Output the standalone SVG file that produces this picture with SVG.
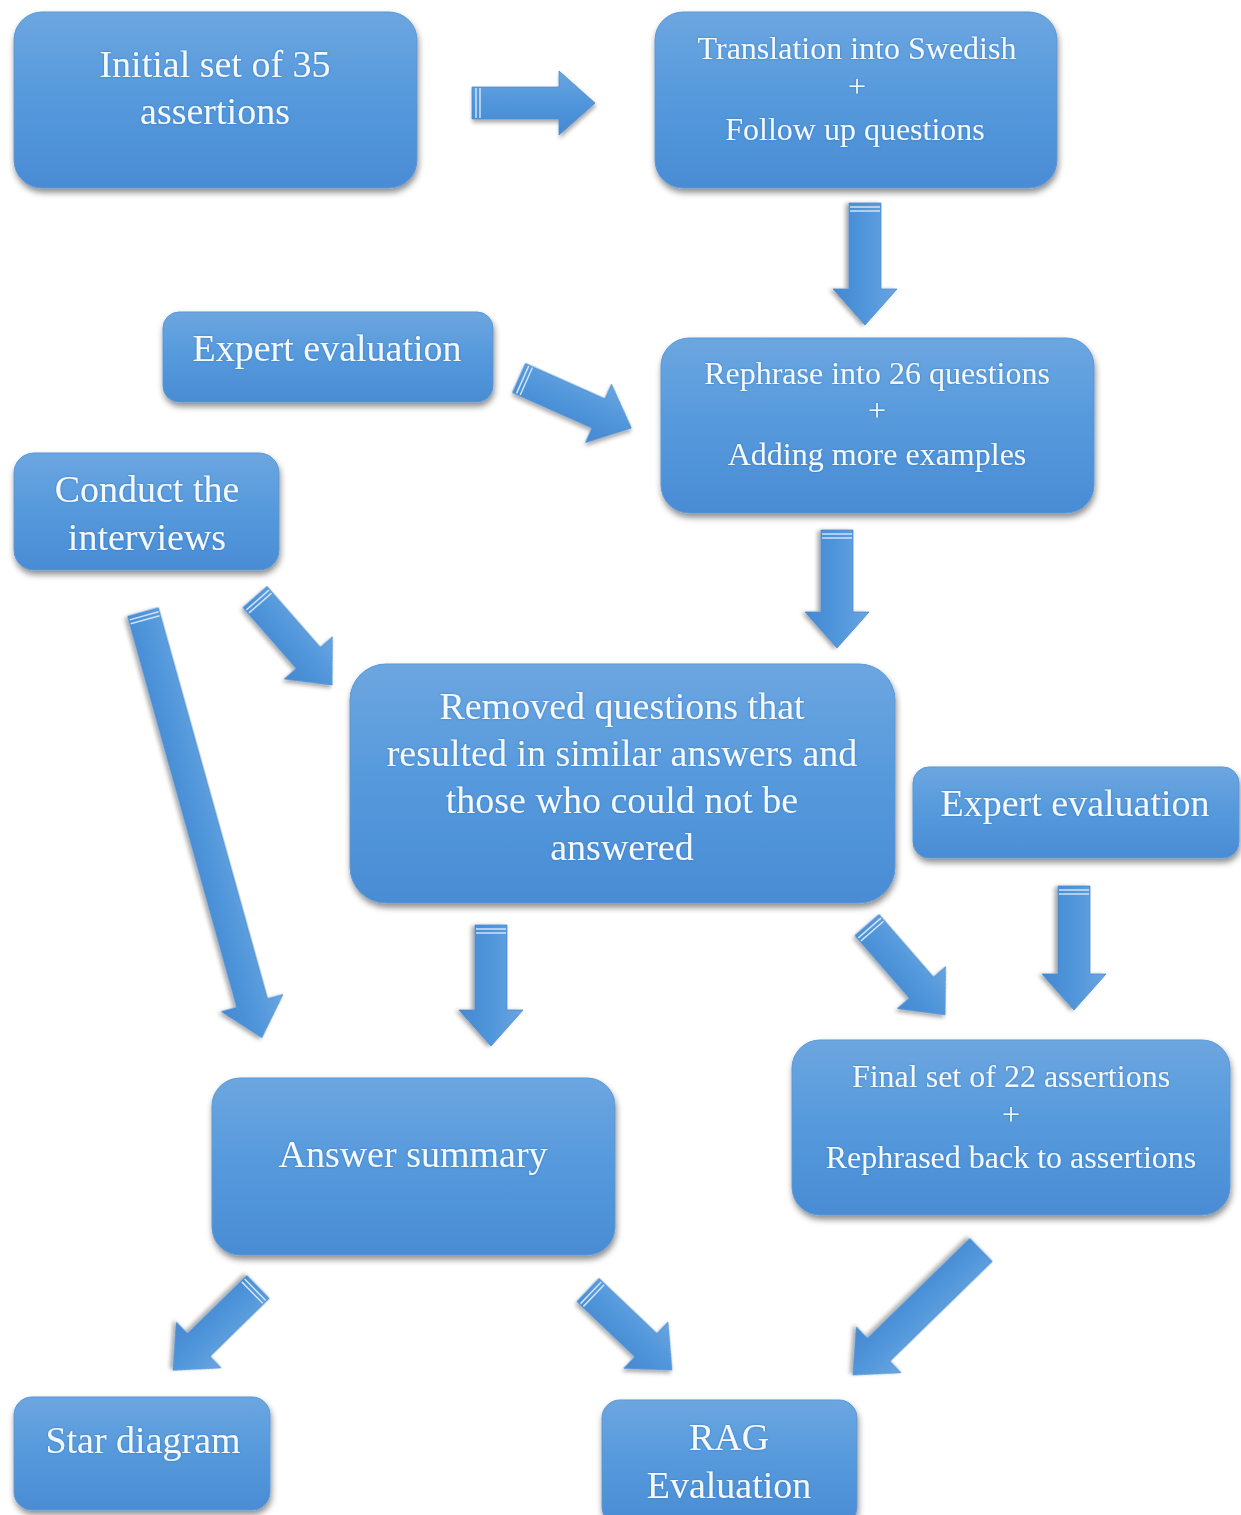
<svg xmlns="http://www.w3.org/2000/svg" width="1241" height="1515" viewBox="0 0 1241 1515">
<defs>
<linearGradient id="boxg" x1="0" y1="0" x2="0" y2="1">
<stop offset="0" stop-color="#6ca6e0"/>
<stop offset="0.5" stop-color="#5599dc"/>
<stop offset="1" stop-color="#4a8cd4"/>
</linearGradient>
<linearGradient id="arrg" x1="0" y1="0" x2="0" y2="1">
<stop offset="0" stop-color="#6aa5e0"/>
<stop offset="0.5" stop-color="#5096db"/>
<stop offset="1" stop-color="#4588d0"/>
</linearGradient>
<filter id="sh" x="-10%" y="-10%" width="120%" height="130%">
<feDropShadow dx="1" dy="4" stdDeviation="3" flood-color="#000" flood-opacity="0.45"/>
</filter>
<filter id="ash" x="-20%" y="-20%" width="140%" height="140%">
<feDropShadow dx="1" dy="3" stdDeviation="2" flood-color="#000" flood-opacity="0.35"/>
</filter>
<filter id="glow" x="-5%" y="-20%" width="110%" height="140%">
<feGaussianBlur in="SourceAlpha" stdDeviation="1.2" result="b"/>
<feFlood flood-color="#2d6fb8" flood-opacity="0.8"/>
<feComposite in2="b" operator="in" result="g"/>
<feMerge><feMergeNode in="g"/><feMergeNode in="SourceGraphic"/></feMerge>
</filter>
</defs>
<style>
.box{fill:url(#boxg);stroke:#5a97d6;stroke-width:1;filter:url(#sh)}
.arr{fill:url(#arrg);stroke:#4a8ad0;stroke-width:0.8;filter:url(#ash)}
.notch{stroke:#cfe2f6;stroke-width:1.5;fill:none}
text{font-family:"Liberation Serif","Times New Roman",serif;fill:#f2f9ff;text-anchor:middle;filter:url(#glow)}
.big{font-size:38px}
.mid{font-size:32px}
</style>
<rect width="1241" height="1515" fill="#ffffff"/>

<g id="connectors">
<g transform="translate(472,103)">
<path class="arr" d="M0,-16H87V-32L123,0L87,32V16H0Z"/>
<path class="notch" d="M4,-15V15M8,-15V15"/>
</g>
<g transform="translate(865,203) rotate(90)">
<path class="arr" d="M0,-16H86V-32L122,0L86,32V16H0Z"/>
<path class="notch" d="M4,-15V15M8,-15V15"/>
</g>
<g transform="translate(519,378) rotate(24)">
<path class="arr" d="M0,-16H87V-32L123,0L87,32V16H0Z"/>
<path class="notch" d="M4,-15V15M8,-15V15"/>
</g>
<g transform="translate(837,530) rotate(90)">
<path class="arr" d="M0,-16H82V-32L118,0L82,32V16H0Z"/>
<path class="notch" d="M4,-15V15M8,-15V15"/>
</g>
<g transform="translate(255,597) rotate(48.8)">
<path class="arr" d="M0,-16H81V-32L117,0L81,32V16H0Z"/>
<path class="notch" d="M4,-15V15M8,-15V15"/>
</g>
<g transform="translate(143,612) rotate(74.4)">
<path class="arr" d="M0,-16H406V-32L442,0L406,32V16H0Z"/>
<path class="notch" d="M4,-15V15M8,-15V15"/>
</g>
<g transform="translate(491,925) rotate(90)">
<path class="arr" d="M0,-16H85V-32L121,0L85,32V16H0Z"/>
<path class="notch" d="M4,-15V15M8,-15V15"/>
</g>
<g transform="translate(867,925) rotate(49)">
<path class="arr" d="M0,-16H83V-32L119,0L83,32V16H0Z"/>
<path class="notch" d="M4,-15V15M8,-15V15"/>
</g>
<g transform="translate(1074,886) rotate(90)">
<path class="arr" d="M0,-16H88V-32L124,0L88,32V16H0Z"/>
<path class="notch" d="M4,-15V15M8,-15V15"/>
</g>
<g transform="translate(258,1287) rotate(135.6)">
<path class="arr" d="M0,-16H83V-32L119,0L83,32V16H0Z"/>
<path class="notch" d="M4,-15V15M8,-15V15"/>
</g>
<g transform="translate(588,1290) rotate(43.6)">
<path class="arr" d="M0,-16H80V-32L116,0L80,32V16H0Z"/>
<path class="notch" d="M4,-15V15M8,-15V15"/>
</g>
<g transform="translate(981,1250) rotate(135.7)">
<path class="arr" d="M0,-16H143V-32L179,0L143,32V16H0Z"/>
</g>
</g>

<g id="n1">
<rect class="box" x="14" y="12" width="403" height="176" rx="28"/>
<text class="big" x="215" y="77">Initial set of 35</text>
<text class="big" x="215" y="124">assertions</text>
</g>
<g id="n2">
<rect class="box" x="655" y="12" width="402" height="176" rx="28"/>
<text class="mid" x="857" y="59">Translation into Swedish</text>
<text class="mid" x="857" y="97">+</text>
<text class="mid" x="855" y="140">Follow up questions</text>
</g>
<g id="n3">
<rect class="box" x="163" y="312" width="330" height="90" rx="16"/>
<text class="big" x="327" y="361">Expert evaluation</text>
</g>
<g id="n4">
<rect class="box" x="661" y="338" width="433" height="175" rx="28"/>
<text class="mid" x="877" y="384">Rephrase into 26 questions</text>
<text class="mid" x="877" y="421">+</text>
<text class="mid" x="877" y="465">Adding more examples</text>
</g>
<g id="n5">
<rect class="box" x="14" y="453" width="265" height="117" rx="20"/>
<text class="big" x="147" y="502">Conduct the</text>
<text class="big" x="147" y="550">interviews</text>
</g>
<g id="n6">
<rect class="box" x="350" y="664" width="545" height="239" rx="36"/>
<text class="big" x="622" y="719">Removed questions that</text>
<text class="big" x="622" y="766">resulted in similar answers and</text>
<text class="big" x="622" y="813">those who could not be</text>
<text class="big" x="622" y="860">answered</text>
</g>
<g id="n7">
<rect class="box" x="913" y="767" width="326" height="91" rx="16"/>
<text class="big" x="1075" y="816">Expert evaluation</text>
</g>
<g id="n8">
<rect class="box" x="212" y="1078" width="403" height="177" rx="28"/>
<text class="big" x="413" y="1167">Answer summary</text>
</g>
<g id="n9">
<rect class="box" x="792" y="1040" width="438" height="175" rx="28"/>
<text class="mid" x="1011" y="1087">Final set of 22 assertions</text>
<text class="mid" x="1011" y="1125">+</text>
<text class="mid" x="1011" y="1168">Rephrased back to assertions</text>
</g>
<g id="n10">
<rect class="box" x="14" y="1397" width="256" height="113" rx="18"/>
<text class="big" x="143" y="1453">Star diagram</text>
</g>
<g id="n11">
<rect class="box" x="602" y="1400" width="255" height="125" rx="18"/>
<text class="big" x="729" y="1450">RAG</text>
<text class="big" x="729" y="1498">Evaluation</text>
</g>
</svg>
